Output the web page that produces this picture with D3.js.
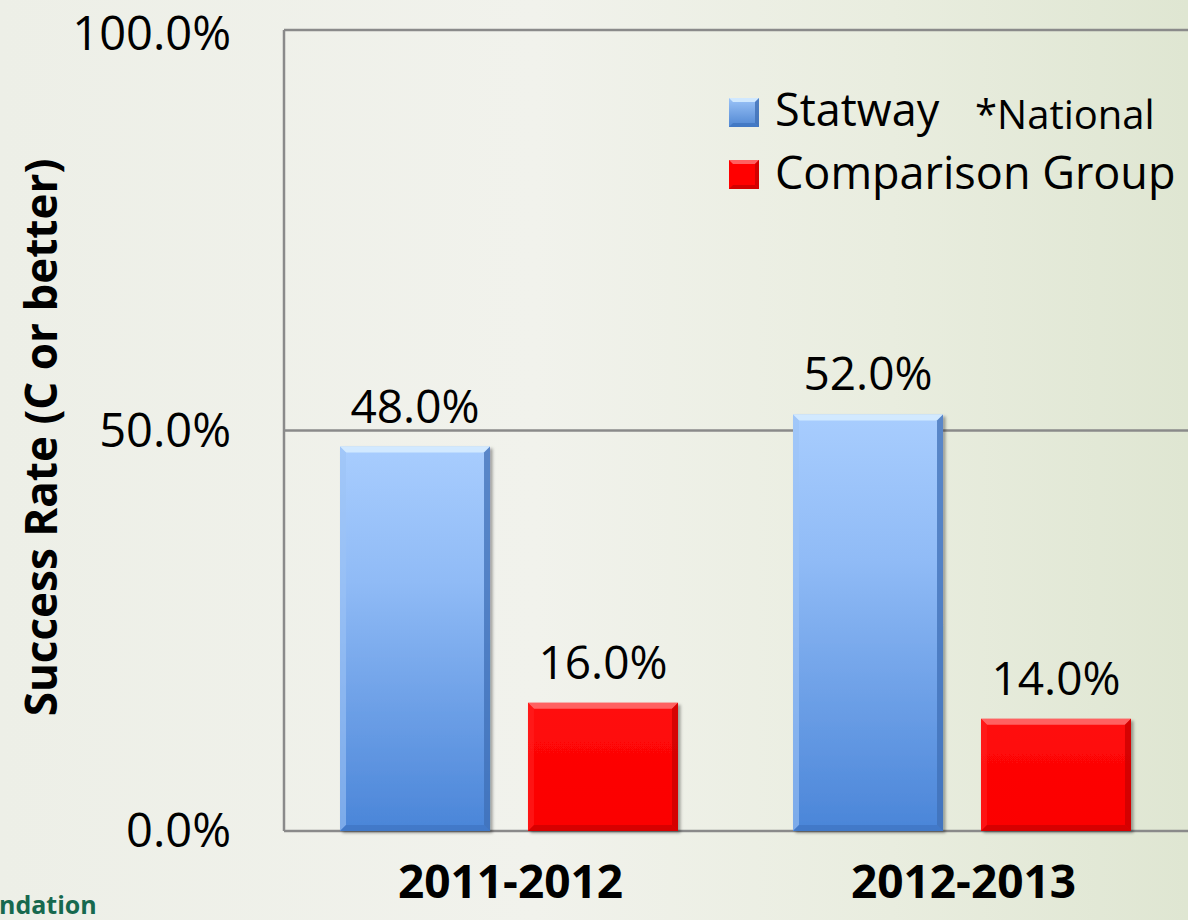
<!DOCTYPE html>
<html>
<head>
<meta charset="utf-8">
<script src="https://cdn.jsdelivr.net/npm/d3@7"></script>
<style>
  html, body { margin: 0; padding: 0; background: #eef0e8; }
  svg { display: block; }
  text { font-family: "Open Sans", sans-serif; }
</style>
</head>
<body>
<svg id="chart" width="1188" height="920"></svg>
<script>
// ---- data ----
const categories = ["2011-2012", "2012-2013"];
const seriesNames = ["Statway", "Comparison Group"];
const statwayValues = [48.0, 52.0];
const comparisonValues = [16.0, 14.0];
const yTickValues = [0, 50, 100];
const legendNote = "*National";
const footerText = "ndation";

const seriesValues = [statwayValues, comparisonValues];
const rows = [];
categories.forEach((c, i) => {
  seriesNames.forEach((s, j) => rows.push({ cat: c, series: s, si: j, value: seriesValues[j][i] }));
});

const svg = d3.select("#chart");
const W = 1188, H = 920;
const defs = svg.append("defs");

// background
const bg = defs.append("linearGradient").attr("id", "bg").attr("x1", "0").attr("x2", "1").attr("y1", "0").attr("y2", "0");
[[0, "#edefe7"], [0.45, "#f1f2ec"], [0.75, "#e9eddf"], [1, "#dfe6d2"]].forEach(([o, c]) =>
  bg.append("stop").attr("offset", o).attr("stop-color", c));
svg.append("rect").attr("width", W).attr("height", H).attr("fill", "url(#bg)");

// bar gradients
const gBlue = defs.append("linearGradient").attr("id", "gBlue").attr("x1", 0).attr("x2", 0).attr("y1", 0).attr("y2", 1);
[[0, "#a8cdfe"], [0.35, "#90bbf6"], [1, "#4a85d8"]].forEach(([o, c]) =>
  gBlue.append("stop").attr("offset", o).attr("stop-color", c));
const gRed = defs.append("linearGradient").attr("id", "gRed").attr("x1", 0).attr("x2", 0).attr("y1", 0).attr("y2", 1);
[[0, "#ff0a0a"], [1, "#fb0000"]].forEach(([o, c]) =>
  gRed.append("stop").attr("offset", o).attr("stop-color", c));
const gLeg = defs.append("linearGradient").attr("id", "gLeg").attr("x1", 0).attr("x2", 0).attr("y1", 0).attr("y2", 1);
[[0, "#9cc4f8"], [1, "#4f86d2"]].forEach(([o, c]) =>
  gLeg.append("stop").attr("offset", o).attr("stop-color", c));

const shadow = defs.append("filter").attr("id", "shadow").attr("x", "-10%").attr("y", "-10%").attr("width", "130%").attr("height", "130%");
shadow.append("feDropShadow").attr("dx", 2.5).attr("dy", 2).attr("stdDeviation", 1.5).attr("flood-color", "#000").attr("flood-opacity", 0.35);

// ---- scales ----
const plotLeft = 284, plotRight = 1190, plotTop = 30, plotBottom = 831;
const y = d3.scaleLinear().domain([0, 100]).range([plotBottom, plotTop]);
const x0 = d3.scaleBand().domain(categories).range([plotLeft, plotRight]);
const x1 = d3.scaleBand().domain(seriesNames).range([56, 394]).paddingInner(0.202);

const fills = { "Statway": "url(#gBlue)", "Comparison Group": "url(#gRed)" };
const legendFills = { "Statway": "url(#gLeg)", "Comparison Group": "#ff0000" };
const bevelCols = {
  "Statway": { top: "#d6ecff", left: "#9cc3f5", right: "#3f6fb5", bottom: "#3c72be" },
  "Comparison Group": { top: "#ff6a6a", left: "#ff2020", right: "#c80000", bottom: "#c00000" }
};

// ---- grid / frame ----
const grid = svg.append("g");
grid.selectAll("line.h").data(yTickValues).join("line")
  .attr("x1", plotLeft).attr("x2", W + 2)
  .attr("y1", d => y(d)).attr("y2", d => y(d))
  .attr("stroke", "#8a8a8a").attr("stroke-width", 2.5);
grid.append("line")
  .attr("x1", plotLeft).attr("x2", plotLeft)
  .attr("y1", y(100)).attr("y2", y(0))
  .attr("stroke", "#8a8a8a").attr("stroke-width", 2.5);

// ---- y axis ----
const yAxis = d3.axisLeft(y).tickValues(yTickValues).tickFormat(d => d.toFixed(1) + "%").tickSize(0).tickPadding(53);
const yg = svg.append("g").attr("transform", `translate(${plotLeft},0)`).call(yAxis);
yg.select(".domain").remove();
yg.selectAll("text").attr("font-family", "Open Sans").attr("font-size", 47).attr("fill", "#000")
  .attr("dy", d => d === 100 ? "0.42em" : "0.33em");

// y title
svg.append("text")
  .attr("transform", `translate(57,${(160 + 715) / 2}) rotate(-90)`)
  .attr("text-anchor", "middle")
  .attr("font-size", 44).attr("font-weight", 700).attr("fill", "#000")
  .text("Success Rate (C or better)");

// ---- x axis labels ----
const xAxis = d3.axisBottom(x0).tickSize(0).tickPadding(0);
const xg = svg.append("g").attr("transform", `translate(0,${plotBottom})`).call(xAxis);
xg.select(".domain").remove();
xg.selectAll("text").attr("font-family", "Open Sans").attr("font-size", 46).attr("font-weight", 700)
  .attr("fill", "#000").attr("y", 67).attr("dy", 0);

// ---- bars ----
const bev = 6;
const barG = svg.append("g");
const bars = barG.selectAll("g.bar").data(rows).join("g").attr("class", "bar")
  .attr("transform", d => `translate(${x0(d.cat) + x1(d.series)},${y(d.value)})`);
bars.each(function (d) {
  const g = d3.select(this);
  const w = x1.bandwidth();
  const h = y(0) - y(d.value);
  const c = bevelCols[d.series];
  g.append("rect").attr("width", w).attr("height", h).attr("fill", fills[d.series]).attr("filter", "url(#shadow)");
  g.append("path").attr("d", `M0,0 L${w},0 L${w - bev},${bev} L${bev},${bev} Z`).attr("fill", c.top).attr("opacity", 0.9);
  g.append("path").attr("d", `M0,0 L${bev},${bev} L${bev},${h - bev} L0,${h} Z`).attr("fill", c.left).attr("opacity", 0.6);
  g.append("path").attr("d", `M${w},0 L${w},${h} L${w - bev},${h - bev} L${w - bev},${bev} Z`).attr("fill", c.right).attr("opacity", 0.75);
  g.append("path").attr("d", `M0,${h} L${w},${h} L${w - bev},${h - bev} L${bev},${h - bev} Z`).attr("fill", c.bottom).attr("opacity", 0.6);
});

// value labels
barG.selectAll("text.val").data(rows).join("text").attr("class", "val")
  .attr("x", d => x0(d.cat) + x1(d.series) + x1.bandwidth() / 2)
  .attr("y", d => y(d.value) - 24)
  .attr("text-anchor", "middle")
  .attr("font-size", 46).attr("fill", "#000")
  .text(d => d.value.toFixed(1) + "%");

// ---- legend ----
const legend = svg.append("g").attr("transform", "translate(729,0)");
const legendY = [98, 160];
const li = legend.selectAll("g").data(seriesNames).join("g")
  .attr("transform", (d, i) => `translate(0,${legendY[i]})`);
li.each(function (d) {
  const g = d3.select(this);
  const s = 30, b = 4;
  const c = bevelCols[d];
  g.append("rect").attr("width", s).attr("height", s - 1).attr("fill", legendFills[d]);
  g.append("path").attr("d", `M0,0 L${s},0 L${s - b},${b} L${b},${b} Z`).attr("fill", c.top).attr("opacity", 0.9);
  g.append("path").attr("d", `M${s},0 L${s},${s - 1} L${s - b},${s - 1 - b} L${s - b},${b} Z`).attr("fill", c.right).attr("opacity", 0.8);
  g.append("path").attr("d", `M0,${s - 1} L${s},${s - 1} L${s - b},${s - 1 - b} L${b},${s - 1 - b} Z`).attr("fill", c.bottom).attr("opacity", 0.7);
});
li.append("text").attr("x", 46).attr("y", (d, i) => i === 0 ? 28 : 29).attr("font-size", 45).attr("fill", "#000").text(d => d);

svg.append("text").attr("x", 975).attr("y", 129).attr("font-size", 40).attr("fill", "#000").text(legendNote);

// footer fragment
svg.append("text").attr("x", -1).attr("y", 914).attr("font-size", 25).attr("font-weight", 700)
  .attr("fill", "#17694f").text(footerText);
</script>
</body>
</html>
